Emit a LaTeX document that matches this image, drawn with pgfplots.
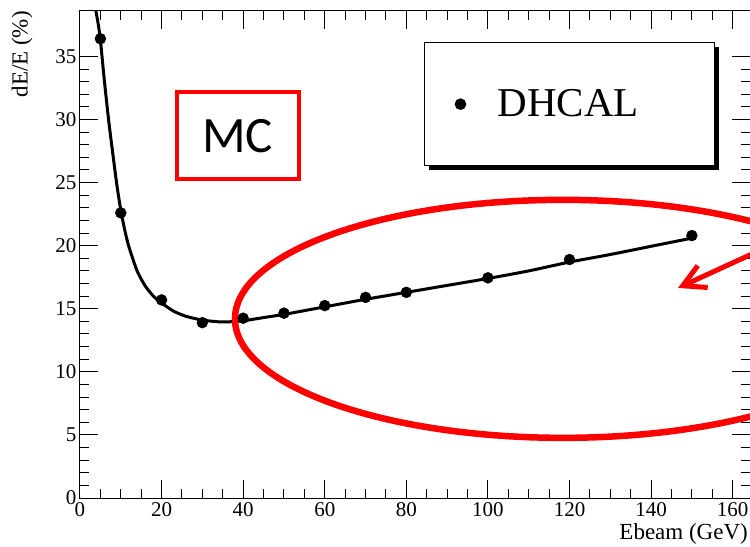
\documentclass[border=0pt]{standalone}
\usepackage{fontspec}
\setmainfont{Liberation Serif}
\newfontfamily\carlito{Carlito}
\usepackage{pgfplots}
\pgfplotsset{compat=1.18}
\usetikzlibrary{arrows.meta}
\begin{document}
\begin{tikzpicture}
\useasboundingbox (-80bp,-49bp) rectangle (670bp,498bp);
\begin{axis}[
  scale only axis,
  width=670bp, height=487bp,
  xmin=0, xmax=164.25, ymin=0, ymax=38.6,
  xtick={0,20,...,160}, ytick={0,5,...,35},
  minor x tick num=3, minor y tick num=4,
  major tick length=18bp, minor tick length=9bp,
  tick style={line width=1bp, black},
  axis line style={line width=1bp},
  /pgf/number format/assume math mode=true,
  tick label style={font=\fontsize{21bp}{25bp}\selectfont},
  yticklabel style={inner xsep=3.5bp},
  xticklabel style={yshift=-1bp},
  xlabel={Ebeam (GeV)},
  ylabel={dE/E (\%)},
  xlabel style={at={(axis description cs:1,0)}, anchor=north east, inner sep=0pt, yshift=-25bp, xshift=-2bp, font=\fontsize{23bp}{27bp}\selectfont},
  ylabel style={at={(axis description cs:-0.0866,1)}, anchor=east, inner sep=0pt, font=\fontsize{23bp}{27bp}\selectfont},
  legend style={at={(rel axis cs:0.5134,0.936)}, anchor=north west, draw=black, line width=1bp, fill=white,
    inner xsep=0pt, inner ysep=0pt, column sep=0pt, row sep=0pt,
    nodes={font=\fontsize{41bp}{45bp}\selectfont, text width=192bp, minimum height=123bp, inner xsep=25bp, inner ysep=0pt, align=left}},
]
% legend shadow
\fill[black] (rel axis cs:0.5209,0.6735) rectangle (rel axis cs:0.9537,0.9261);
% fit curve
\addplot[black, line width=3bp, smooth, tension=0.4, forget plot] coordinates {
(3.9,38.6) (4.5,37.5) (5,36.3) (6,33.0) (7,30.0) (8,27.4) (9,24.9) (10,22.8)
(11,21.2) (12,19.9) (14,18.0) (16,16.8) (18,16.0) (20,15.45) (23,14.8) (26,14.4)
(30,14.1) (35,13.95) (40,14.05) (45,14.3) (50,14.55) (55,14.85) (60,15.15)
(70,15.75) (80,16.3) (90,16.85) (100,17.4) (110,18.0) (120,18.7) (130,19.3)
(140,19.95) (150,20.6)
};
% data points
\addplot[only marks, mark=*, mark size=5.5bp, black,
  legend image code/.code={\path[draw=none,fill=none] (-36bp,0) -- (12bp,0); \fill[black] (0,0) circle (5.3bp);}] coordinates {
(5,36.4) (10,22.6) (20,15.7) (30,13.9) (40,14.25) (50,14.65) (60,15.25)
(70,15.9) (80,16.3) (100,17.45) (120,18.9) (150,20.8)
};
\addlegendentry{DHCAL}
% annotations
\draw[red, line width=4bp] (axis cs:23.7,25.3) rectangle (axis cs:53.8,32.14);
\node[font=\carlito\fontsize{51bp}{55bp}\selectfont, inner sep=0pt] at (axis cs:38.6,28.7) {MC};
\draw[red, line width=6.5bp] (axis cs:118.4,14.2) ellipse [x radius=328bp, y radius=119bp];
\draw[red, line width=5bp, -{Straight Barb[length=22bp, width=24bp]}] (axis cs:166.7,19.63) -- (axis cs:146.6,16.65);
\end{axis}
\end{tikzpicture}
\end{document}
